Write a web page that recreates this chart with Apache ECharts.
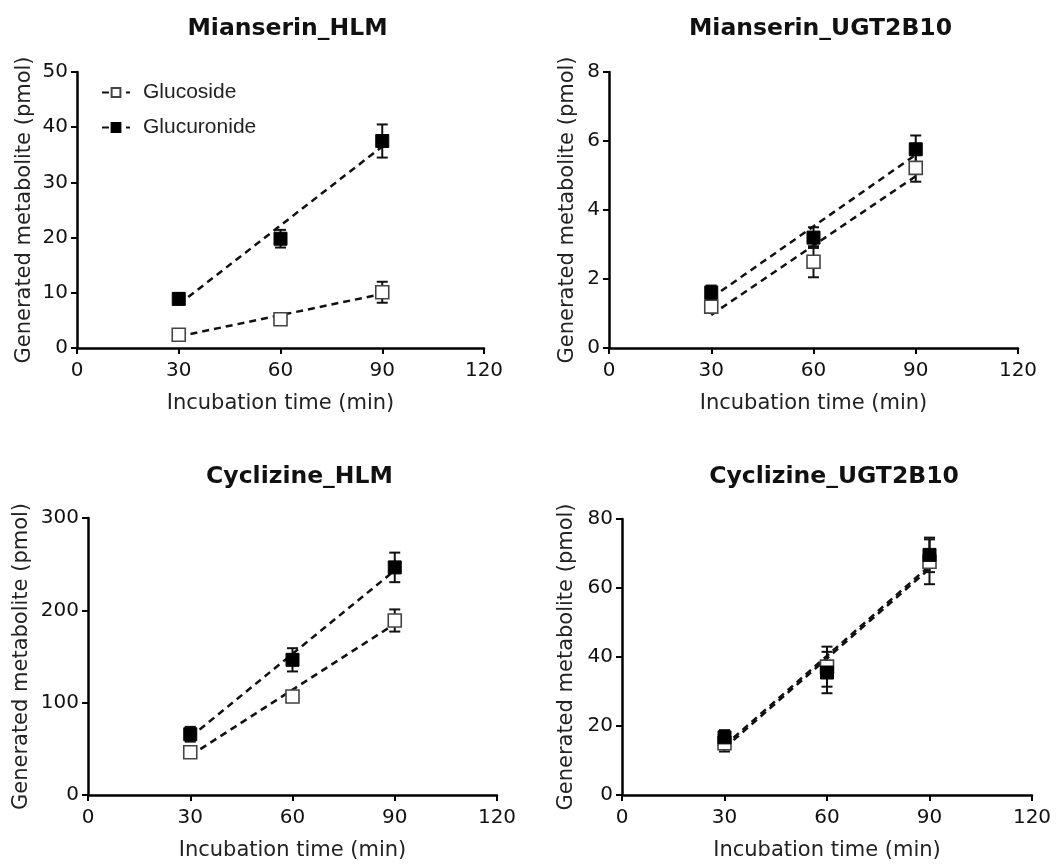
<!DOCTYPE html>
<html>
<head>
<meta charset="utf-8">
<script src="https://cdn.jsdelivr.net/npm/echarts@6/dist/echarts.min.js"></script>
<style>html,body{margin:0;padding:0;background:#fff}#c{width:1059px;height:865px}</style>
</head>
<body>
<div id="c"></div>
<script>
const times = [30, 60, 90];
const fitX = [30, 90];
const panelTitles = ['Mianserin_HLM', 'Mianserin_UGT2B10', 'Cyclizine_HLM', 'Cyclizine_UGT2B10'];
const yMax = [50, 8, 300, 80];
const yInterval = [10, 2, 100, 20];
const glucosideMean = [[2.4, 5.2, 10.1], [1.2, 2.5, 5.22], [46.3, 106.6, 189], [15, 37.2, 67.6]];
const glucosideSD = [[0.4, 0.5, 1.9], [0.15, 0.45, 0.4], [4, 6, 12], [2.4, 5.8, 6.5]];
const glucuronideMean = [[8.9, 19.8, 37.5], [1.61, 3.2, 5.76], [65.8, 146.4, 246.5], [16.7, 35.5, 69.6]];
const glucuronideSD = [[1.0, 1.6, 3.0], [0.2, 0.3, 0.4], [8, 12.6, 16], [2.1, 6, 5]];
const glucosideFit = [[2.1, 9.8], [0.96, 4.98], [42.6, 185.3], [13.6, 65.6]];
const glucuronideFit = [[7.9, 36.5], [1.45, 5.6], [62.6, 243.2], [14.3, 66.4]];

const FONT = '"Liberation Sans", Arial, sans-serif';
const WIDE = '"DejaVu Sans", "Liberation Sans", Arial, sans-serif';
const grids = [
  {left: 77, top: 72, width: 407, height: 276},
  {left: 609, top: 72, width: 409, height: 276},
  {left: 88, top: 518, width: 409, height: 277},
  {left: 622, top: 519, width: 410, height: 276}
];
const yNameGap = [42, 31, 56, 45];

const option = {
  backgroundColor: '#fff',
  animation: false,
  textStyle: {fontFamily: FONT},
  title: grids.map((g, i) => ({
    text: panelTitles[i],
    left: g.left + g.width / 2 + 2,
    textAlign: 'center',
    top: i < 2 ? 12 : 460,
    textStyle: {fontFamily: WIDE, fontSize: 23.5, fontWeight: 'bold', color: '#111'}
  })),
  legend: {
    data: ['Glucoside', 'Glucuronide'],
    left: 96, top: 77, orient: 'vertical', itemGap: 14,
    itemWidth: 28, itemHeight: 11,
    textStyle: {fontFamily: FONT, fontSize: 21, color: '#222', padding: [0, 0, 0, 8]}
  },
  grid: grids,
  xAxis: grids.map((g, i) => ({
    gridIndex: i, type: 'value', min: 0, max: 120, interval: 30,
    name: 'Incubation time (min)', nameLocation: 'middle', nameGap: 45,
    nameTextStyle: {fontFamily: WIDE, fontSize: 21, color: '#222'},
    axisLine: {lineStyle: {color: '#000', width: 2.5}},
    axisTick: {show: true, length: 6, lineStyle: {color: '#000', width: 2}},
    axisLabel: {fontFamily: WIDE, fontSize: 20, color: '#111', margin: 13},
    splitLine: {show: false}
  })),
  yAxis: grids.map((g, i) => ({
    gridIndex: i, type: 'value', min: 0, max: yMax[i], interval: yInterval[i],
    name: 'Generated metabolite (pmol)', nameLocation: 'middle', nameGap: yNameGap[i],
    nameTextStyle: {fontFamily: WIDE, fontSize: 21, color: '#222'},
    axisLine: {show: true, lineStyle: {color: '#000', width: 2.5}},
    axisTick: {show: true, length: 6, lineStyle: {color: '#000', width: 2}},
    axisLabel: {fontFamily: WIDE, fontSize: 20, color: '#111', margin: 9},
    splitLine: {show: false}
  })),
  series: []
};

function errData(mean, sd) {
  return times.map((t, k) => [t, mean[k] - sd[k], mean[k] + sd[k]]);
}
function errSeries(i, mean, sd, name) {
  return {
    name: name, type: 'custom', xAxisIndex: i, yAxisIndex: i, z: 3,
    data: errData(mean, sd),
    encode: {x: 0, y: [1, 2]},
    renderItem: function (params, api) {
      const x = api.value(0);
      const lo = api.coord([x, api.value(1)]);
      const hi = api.coord([x, api.value(2)]);
      const cap = 5.5;
      const st = {stroke: '#111', lineWidth: 2};
      return {type: 'group', children: [
        {type: 'line', shape: {x1: lo[0], y1: lo[1], x2: hi[0], y2: hi[1]}, style: st},
        {type: 'line', shape: {x1: lo[0] - cap, y1: lo[1], x2: lo[0] + cap, y2: lo[1]}, style: st},
        {type: 'line', shape: {x1: hi[0] - cap, y1: hi[1], x2: hi[0] + cap, y2: hi[1]}, style: st}
      ]};
    }
  };
}

const openStyle = {color: '#fff', borderColor: '#444', borderWidth: 1.6, opacity: 1};
const fillStyle = {color: '#000', borderColor: '#000', borderWidth: 1, opacity: 1};
const dash = {color: '#111', width: 2.5, type: [7, 5]};

for (let i = 0; i < 4; i++) {
  option.series.push({
    name: i === 0 ? 'Glucoside' : 'Glucoside fit ' + i,
    type: 'line', xAxisIndex: i, yAxisIndex: i, z: 2,
    data: fitX.map((x, k) => [x, glucosideFit[i][k]]),
    symbol: 'rect', symbolSize: 11, showSymbol: false,
    itemStyle: openStyle, lineStyle: dash
  });
  option.series.push({
    name: i === 0 ? 'Glucuronide' : 'Glucuronide fit ' + i,
    type: 'line', xAxisIndex: i, yAxisIndex: i, z: 2,
    data: fitX.map((x, k) => [x, glucuronideFit[i][k]]),
    symbol: 'rect', symbolSize: 11, showSymbol: false,
    itemStyle: fillStyle, lineStyle: dash
  });
  option.series.push(errSeries(i, glucosideMean[i], glucosideSD[i], 'Glucoside err ' + i));
  option.series.push(errSeries(i, glucuronideMean[i], glucuronideSD[i], 'Glucuronide err ' + i));
  option.series.push({
    name: 'Glucoside pts ' + i, type: 'scatter', xAxisIndex: i, yAxisIndex: i, z: 4,
    data: times.map((t, k) => [t, glucosideMean[i][k]]),
    symbol: 'rect', symbolSize: 13, itemStyle: openStyle
  });
  option.series.push({
    name: 'Glucuronide pts ' + i, type: 'scatter', xAxisIndex: i, yAxisIndex: i, z: 4,
    data: times.map((t, k) => [t, glucuronideMean[i][k]]),
    symbol: 'rect', symbolSize: 13, itemStyle: fillStyle
  });
}

const chart = echarts.init(document.getElementById('c'), null, {renderer: 'canvas'});
chart.setOption(option);
</script>
</body>
</html>
